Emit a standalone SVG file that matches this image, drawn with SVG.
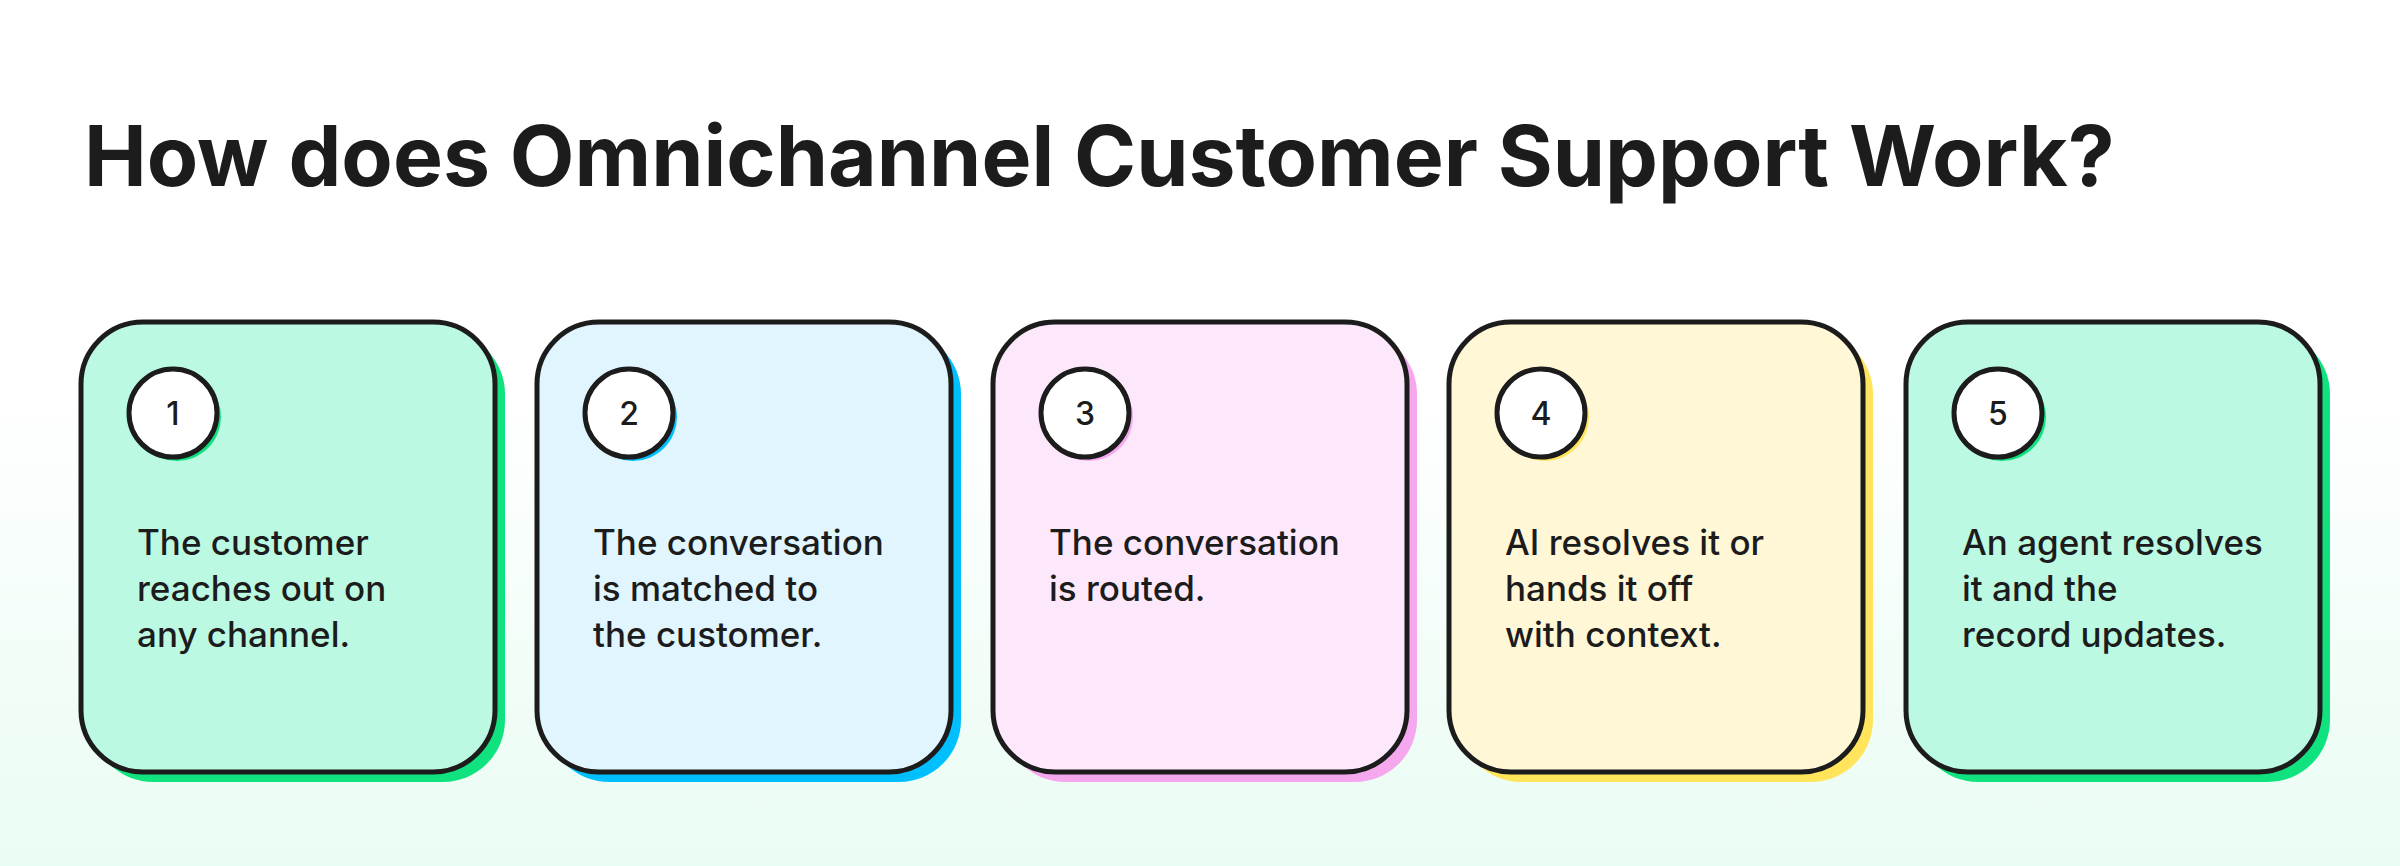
<svg xmlns="http://www.w3.org/2000/svg" width="2400" height="866" viewBox="0 0 2400 866">
<defs>
<linearGradient id="bg" x1="0" y1="0" x2="0" y2="1">
<stop offset="0" stop-color="#ffffff"/><stop offset="0.45" stop-color="#ffffff"/><stop offset="1" stop-color="#e9fcf3"/>
</linearGradient>
<style>
.card{stroke:#1c1c1c;stroke-width:5}
.circ{fill:#fff;stroke:#1c1c1c;stroke-width:5}
.num{font-family:Inter,"Noto Sans",sans-serif;font-size:32px;font-weight:500;fill:#1c1c1c;text-anchor:middle}
.txt{font-family:Inter,"Noto Sans",sans-serif;font-size:35px;font-weight:500;fill:#1c1c1c}
.title{font-family:Inter,"Noto Sans",sans-serif;font-size:84px;font-weight:700;fill:#1c1c1c}
</style>
</defs>
<rect width="2400" height="866" fill="url(#bg)"/>
<text class="title" x="84" y="186">How does Omnichannel Customer Support Work?</text>
<g id="connectors"/>
<g id="step1">
<rect x="91" y="332" width="414" height="450" rx="62" fill="#10e27f"/>
<rect class="card" x="81" y="322" width="414" height="450" rx="62" fill="#bbf9e2"/>
<circle cx="177" cy="417" r="44" fill="#10e27f"/>
<circle class="circ" cx="173" cy="413" r="44"/>
<text class="num" x="173" y="425">1</text>
<text class="txt" x="137" y="555">The customer</text>
<text class="txt" x="137" y="601">reaches out on</text>
<text class="txt" x="137" y="647">any channel.</text>
</g>
<g id="step2">
<rect x="547" y="332" width="414" height="450" rx="62" fill="#00bfff"/>
<rect class="card" x="537" y="322" width="414" height="450" rx="62" fill="#e0f5fd"/>
<circle cx="633" cy="417" r="44" fill="#00bfff"/>
<circle class="circ" cx="629" cy="413" r="44"/>
<text class="num" x="629" y="425">2</text>
<text class="txt" x="593" y="555">The conversation</text>
<text class="txt" x="593" y="601">is matched to</text>
<text class="txt" x="593" y="647">the customer.</text>
</g>
<g id="step3">
<rect x="1003" y="332" width="414" height="450" rx="62" fill="#f5a8ee"/>
<rect class="card" x="993" y="322" width="414" height="450" rx="62" fill="#fde8fb"/>
<circle cx="1089" cy="417" r="44" fill="#f5a8ee"/>
<circle class="circ" cx="1085" cy="413" r="44"/>
<text class="num" x="1085" y="425">3</text>
<text class="txt" x="1049" y="555">The conversation</text>
<text class="txt" x="1049" y="601">is routed.</text>
</g>
<g id="step4">
<rect x="1459" y="332" width="414" height="450" rx="62" fill="#ffe45c"/>
<rect class="card" x="1449" y="322" width="414" height="450" rx="62" fill="#fff7d6"/>
<circle cx="1545" cy="417" r="44" fill="#ffe45c"/>
<circle class="circ" cx="1541" cy="413" r="44"/>
<text class="num" x="1541" y="425">4</text>
<text class="txt" x="1505" y="555">AI resolves it or</text>
<text class="txt" x="1505" y="601">hands it off</text>
<text class="txt" x="1505" y="647">with context.</text>
</g>
<g id="step5">
<rect x="1916" y="332" width="414" height="450" rx="62" fill="#10e27f"/>
<rect class="card" x="1906" y="322" width="414" height="450" rx="62" fill="#bbf9e2"/>
<circle cx="2002" cy="417" r="44" fill="#10e27f"/>
<circle class="circ" cx="1998" cy="413" r="44"/>
<text class="num" x="1998" y="425">5</text>
<text class="txt" x="1962" y="555">An agent resolves</text>
<text class="txt" x="1962" y="601">it and the</text>
<text class="txt" x="1962" y="647">record updates.</text>
</g>
</svg>
